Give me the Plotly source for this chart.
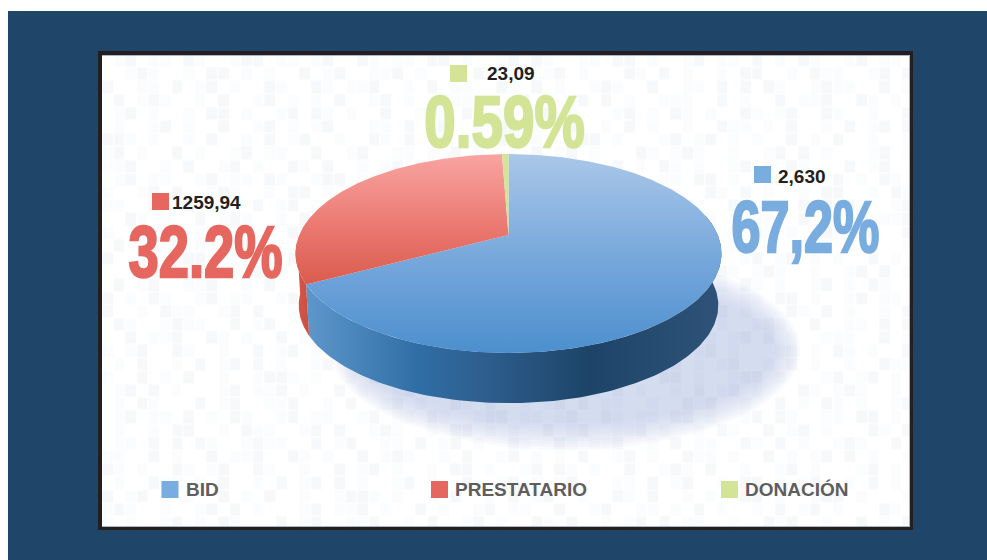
import json
import numpy as np
import plotly.graph_objects as go

# ---- data ----
categories = ["BID", "PRESTATARIO", "DONACIÓN"]
amounts = [2630, 1259.94, 23.09]
amount_labels = ["2,630", "1259,94", "23,09"]
percent_labels = ["67,2%", "32.2%", "0.59%"]
colors = ["#79acdf", "#e5675f", "#d3e497"]

# ---- styling / geometry ----
W, H = 987, 560
CX, APEX_Y, BX, AY, K = 508.5, 235, 209.3, 96, 0.186
DEPTH, BASE_SCALE = 52, 0.985
PCT_SQUEEZE = [0.715, 0.745, 0.775]

TEXTURE_ROWS = [
    "0120110210012201101200210110220100120210011022010012011020102100120110",
    "1001202001210010220101002012001120100102100201201000210201001022001021",
    "0210012110020120011020120100210021011200102011002102010012100200110202",
    "1100201002011200210100201210010200120101020012010021101002010120201001",
    "0012010210100210120021001002012010010220100120210100200121020010012010",
    "2010120010201001002110102001020120201001201002001201012000110201200102",
    "0101002201001220100012012010100201020010012210100102001020120010021020",
    "1200110102010010201201000210121001001202010001201120100201001201100200",
    "0021020010120201100100212001002010210100120102100020120011200102001201",
]


def rim(theta_deg, depth=0.0, scale=1.0):
    t = np.radians(theta_deg)
    u, v = np.sin(t), np.cos(t)
    d = 1 + K * v
    return CX + scale * BX * u / d, APEX_Y + depth - scale * AY * v / d


share = np.array(amounts) / sum(amounts) * 360
edges = np.concatenate([[0], np.cumsum(share)])

fig = go.Figure()

# faint printed texture behind the chart
rows = []
for i in range(36):
    s = TEXTURE_ROWS[i % len(TEXTURE_ROWS)]
    off = (i * 7) % len(s)
    rows.append([int(c) for c in (s[off:] + s[:off])])
tx = 108 + np.arange(len(rows[0])) * 11.6
ty = 61 + np.arange(len(rows)) * 13.2
fig.add_trace(go.Heatmap(
    x=tx, y=ty, z=rows, xgap=1, ygap=1, showscale=False, hoverinfo="skip", zmin=0, zmax=2,
    colorscale=[[0, "rgba(60,100,150,0)"], [0.5, "rgba(60,100,150,0.018)"], [1, "rgba(60,100,150,0.042)"]],
))

# side walls
wall_scales = [
    [[0, "#5e97cc"], [0.27, "#2f6ea4"], [0.4, "#2f6192"], [0.68, "#1d4468"], [1, "#2f5378"]],
    [[0, "#d9574a"], [1, "#c94f40"]],
]
wall_ranges = [(78, edges[1]), (edges[1], 266)]
for (a, b), cs in zip(wall_ranges, wall_scales):
    th = np.linspace(a, b, 160)
    x1, y1 = rim(th)
    x2, y2 = rim(th[::-1], DEPTH, BASE_SCALE)
    fig.add_trace(go.Scatter(
        x=np.concatenate([x1, x2]), y=np.concatenate([y1, y2]), mode="lines",
        line=dict(width=0), fill="toself", hoverinfo="skip", showlegend=False,
        fillgradient=dict(type="horizontal", colorscale=cs),
    ))

# top faces, one wedge per category
face_scales = [
    [[0, "#aac7e9"], [0.5, "#79a9dc"], [1, "#4c8fce"]],
    [[0, "#f9a4a1"], [0.55, "#ea7870"], [1, "#d95849"]],
    [[0, "#d3e497"], [1, "#d3e497"]],
]
face_bounds = [(154, 353), (154, 290), (154, 240)]
for i, name in enumerate(categories):
    th = np.linspace(edges[i], edges[i + 1], max(4, int(share[i] * 2)))
    x, y = rim(th)
    x = np.concatenate([[CX], x, [CX]])
    y = np.concatenate([[APEX_Y], y, [APEX_Y]])
    fig.add_trace(go.Scatter(
        x=x, y=y, mode="lines", name=name, line=dict(width=0), fill="toself", showlegend=False,
        fillgradient=dict(type="vertical", colorscale=face_scales[i],
                          start=face_bounds[i][0], stop=face_bounds[i][1]),
    ))

# keys
key_x = [762.5, 160.5, 458.5]
key_y = [174.5, 201.5, 73.5]
leg_x = [170, 439.5, 729.5]
leg_y = [489.5] * 3
fig.add_trace(go.Scatter(
    x=key_x + leg_x, y=key_y + leg_y, mode="markers", showlegend=False, hoverinfo="skip",
    marker=dict(symbol="square", size=17, color=colors + colors, line=dict(width=0)),
))

ann = []
amt_x = [775.5, 170, 485]
amt_y = [176, 202, 73]
pct_x = [805.5, 205.5, 504.5]
pct_y = [226.5, 251, 121.5]
text_x = [183.5, 452.5, 742.5]
for i in range(3):
    ann.append(dict(x=amt_x[i], y=amt_y[i], text=f"<b>{amount_labels[i]}</b>", xanchor="left", yanchor="middle",
                    showarrow=False, font=dict(family="Liberation Sans", size=19, color="#231f20")))
    ann.append(dict(x=pct_x[i], y=pct_y[i], text=f"<b>{percent_labels[i]}</b>", xanchor="center", yanchor="middle",
                    showarrow=False, font=dict(family="Liberation Sans", size=73, color=colors[i])))
    ann.append(dict(x=text_x[i], y=489, text=f"<b>{categories[i]}</b>", xanchor="left", yanchor="middle",
                    showarrow=False, font=dict(family="Liberation Sans", size=19, color="#5e5e5e")))

shapes = [
    dict(type="rect", x0=8, x1=W, y0=11, y1=H, fillcolor="#1f4568", line_width=0, layer="below"),
    dict(type="rect", x0=98, x1=913, y0=51, y1=530, fillcolor="#231f20", line_width=0, layer="below"),
    dict(type="rect", x0=102, x1=910, y0=55, y1=527, fillcolor="#aeb8c8", line_width=0, layer="below"),
    dict(type="rect", x0=102, x1=909, y0=56, y1=526, fillcolor="#ffffff", line_width=0, layer="below"),
]
# soft cast shadow on the page
for g in range(14, -16, -3):
    shapes.append(dict(type="circle", x0=345 - g, x1=786 + g, y0=264 - g, y1=436 + g,
                       fillcolor="#c2cdec", opacity=0.095, line_width=0, layer="below"))

fig.update_layout(
    width=W, height=H, margin=dict(l=0, r=0, t=0, b=0), paper_bgcolor="#ffffff", plot_bgcolor="rgba(0,0,0,0)",
    xaxis=dict(range=[0, W], visible=False, fixedrange=True),
    yaxis=dict(range=[H, 0], visible=False, fixedrange=True),
    shapes=shapes, annotations=ann, showlegend=False,
)

# page margin off; the big percentages are a heavy condensed face, so squeeze and embolden them
POST = """
document.documentElement.style.overflow='hidden';
document.body.style.margin='0';
var gd=document.getElementById('{plot_id}');
var squeeze=__SQUEEZE__;
function styleBig(){
  gd.querySelectorAll('.annotation-text').forEach(function(el){
    var k=squeeze[el.textContent];
    if(k){
      el.style.transformBox='fill-box';
      el.style.transformOrigin='center';
      el.style.transform='scaleX('+k+')';
      el.style.stroke=el.style.fill;
      el.style.strokeWidth='2.4px';
    }
  });
}
styleBig();
gd.on('plotly_afterplot',styleBig);
""".replace("__SQUEEZE__", json.dumps(dict(zip(percent_labels, PCT_SQUEEZE))))
fig.write_html("out.html", config=dict(displayModeBar=False), post_script=POST)
